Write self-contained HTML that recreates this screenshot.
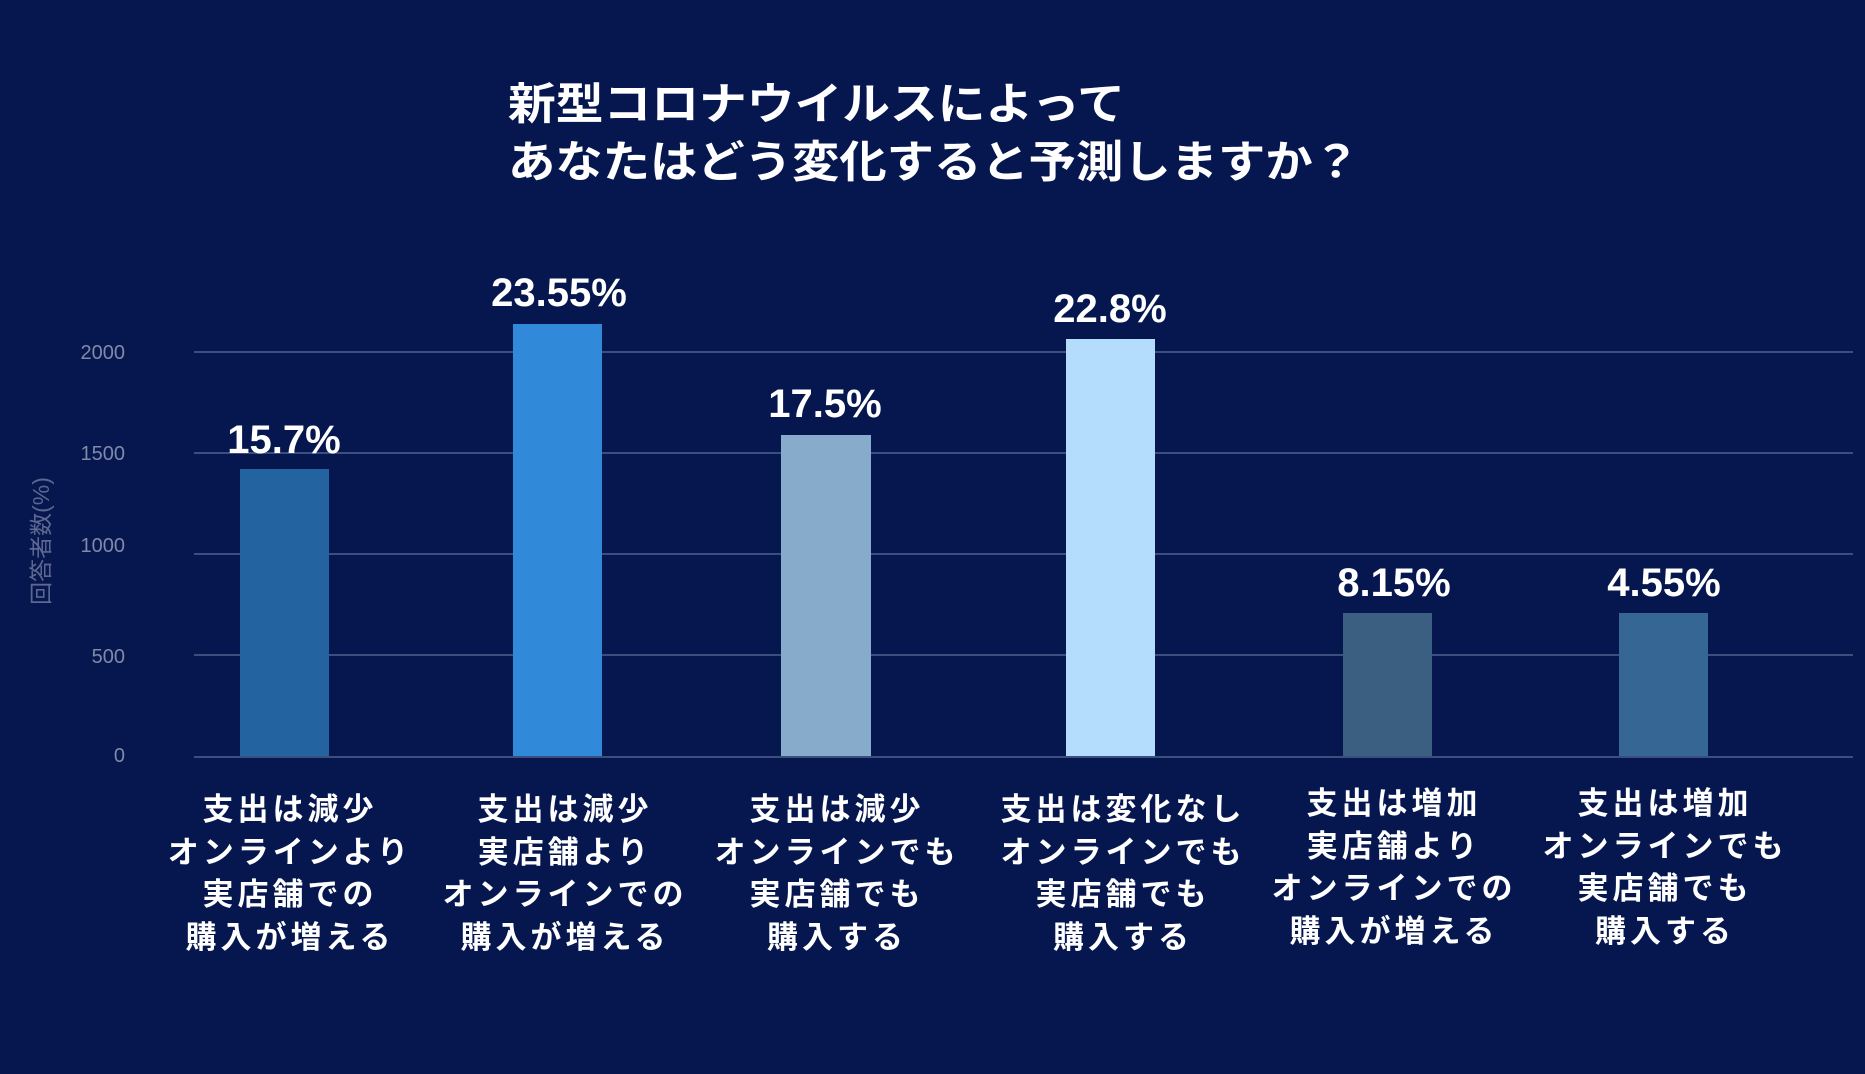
<!DOCTYPE html>
<html><head><meta charset="utf-8"><style>
html,body{margin:0;padding:0;background:#061750;}
svg{display:block;}
text{font-family:"Liberation Sans","Noto Sans CJK JP",sans-serif;}
</style></head><body>
<svg width="1865" height="1074" viewBox="0 0 1865 1074" xmlns="http://www.w3.org/2000/svg">
<rect width="1865" height="1074" fill="#061750"/>
<g font-weight="bold" fill="#fff" font-size="44">
<text x="508" y="119" textLength="617" lengthAdjust="spacingAndGlyphs">新型コロナウイルスによって</text>
<text x="508" y="177" textLength="852" lengthAdjust="spacingAndGlyphs">あなたはどう変化すると予測しますか？</text>
</g>
<g stroke="#3b4f7e" stroke-width="2">
<line x1="194" y1="352" x2="1853" y2="352"/>
<line x1="194" y1="453" x2="1853" y2="453"/>
<line x1="194" y1="554" x2="1853" y2="554"/>
<line x1="194" y1="655" x2="1853" y2="655"/>
<line x1="194" y1="757" x2="1853" y2="757"/>
</g>
<g fill="#7f89a8" font-size="20" text-anchor="end">
<text x="125" y="359">2000</text>
<text x="125" y="460">1500</text>
<text x="125" y="552">1000</text>
<text x="125" y="663">500</text>
<text x="125" y="762">0</text>
</g>
<text transform="translate(49,541) rotate(-90)" fill="#5d6890" font-size="23" text-anchor="middle">回答者数(%)</text>
<rect x="240" y="469" width="89" height="287" fill="#2263a0"/>
<rect x="513" y="324" width="89" height="432" fill="#308ad9"/>
<rect x="781" y="435" width="90" height="321" fill="#87abcb"/>
<rect x="1066" y="339" width="89" height="417" fill="#b4dcfd"/>
<rect x="1343" y="613" width="89" height="143" fill="#3a5f80"/>
<rect x="1619" y="613" width="89" height="143" fill="#366794"/>
<g fill="#fff" font-weight="bold" font-size="40" text-anchor="middle">
<text x="284" y="453">15.7%</text>
<text x="559" y="306">23.55%</text>
<text x="825" y="417">17.5%</text>
<text x="1110" y="322">22.8%</text>
<text x="1394" y="596">8.15%</text>
<text x="1664" y="596">4.55%</text>
</g>
<g fill="#fff" font-weight="bold" font-size="31" text-anchor="middle" letter-spacing="4">
<text x="290" y="820">支出は減少</text><text x="290" y="863">オンラインより</text><text x="290" y="905">実店舗での</text><text x="290" y="948">購入が増える</text>
<text x="565" y="820">支出は減少</text><text x="565" y="863">実店舗より</text><text x="565" y="905">オンラインでの</text><text x="565" y="948">購入が増える</text>
<text x="837" y="820">支出は減少</text><text x="837" y="863">オンラインでも</text><text x="837" y="905">実店舗でも</text><text x="837" y="948">購入する</text>
<text x="1123" y="820">支出は変化なし</text><text x="1123" y="863">オンラインでも</text><text x="1123" y="905">実店舗でも</text><text x="1123" y="948">購入する</text>
<text x="1394" y="814">支出は増加</text><text x="1394" y="857">実店舗より</text><text x="1394" y="899">オンラインでの</text><text x="1394" y="942">購入が増える</text>
<text x="1665" y="814">支出は増加</text><text x="1665" y="857">オンラインでも</text><text x="1665" y="899">実店舗でも</text><text x="1665" y="942">購入する</text>
</g>
</svg>
</body></html>
